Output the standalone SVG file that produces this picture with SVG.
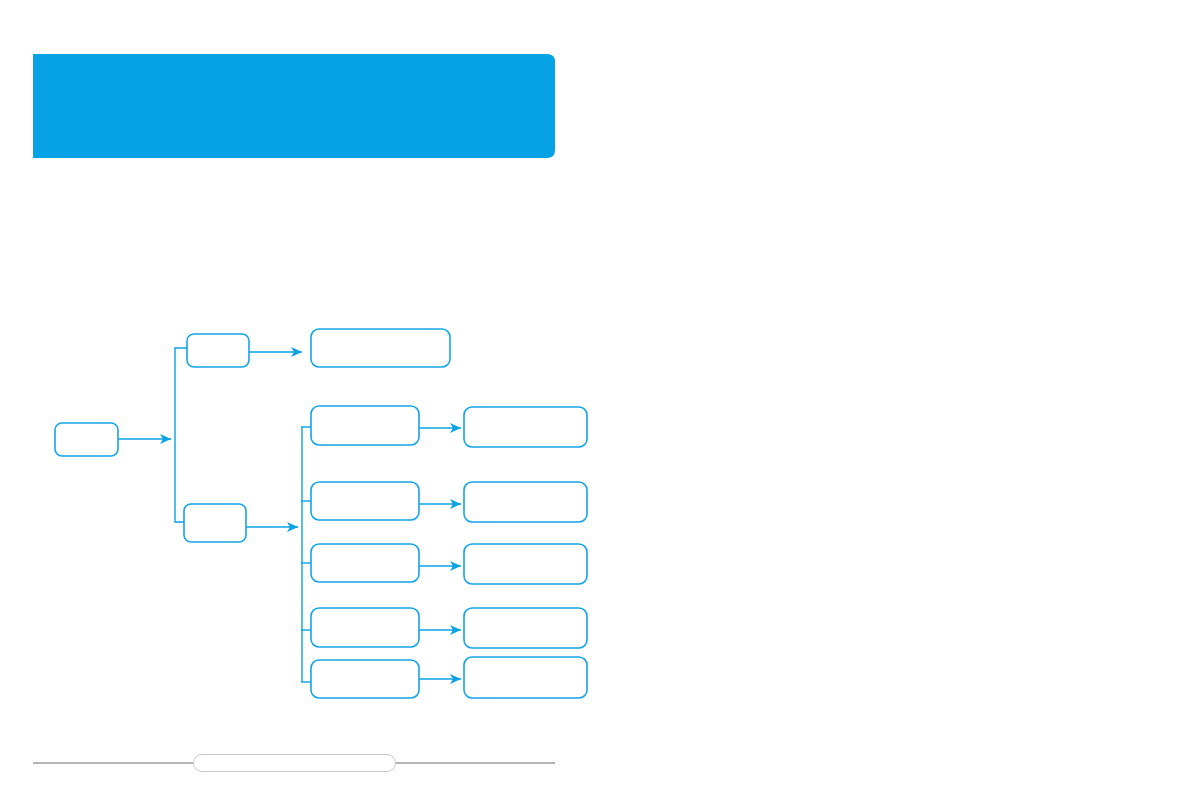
<svg xmlns="http://www.w3.org/2000/svg" width="1183" height="798" viewBox="0 0 1183 798">
<style>
.node{fill:#ffffff;stroke:#14A5E6;stroke-width:1.6}
.conn{fill:none;stroke:#0AA2E5;stroke-width:1.4}
</style>
<defs>
<marker id="arr" markerWidth="12" markerHeight="10" refX="11" refY="5" orient="auto" markerUnits="userSpaceOnUse">
<path d="M0,0 L11,5 L0,10 L3,5 Z" fill="#0AA2E5"/>
</marker>
</defs>
<rect width="1183" height="798" fill="#ffffff"/>
<g id="header">
<path d="M33,54 H547 Q555,54 555,62 V150 Q555,158 547,158 H33 Z" fill="#05A3E6"/>
</g>
<g id="footer">
<line x1="33" y1="763" x2="193" y2="763" stroke="#6a6a6a" stroke-width="1"/>
<line x1="395" y1="763" x2="555" y2="763" stroke="#6a6a6a" stroke-width="1"/>
<rect x="193.5" y="754.5" width="202" height="17" rx="8.5" fill="#ffffff" stroke="#c8c8c8" stroke-width="1"/>
</g>
<g id="root"><rect class="node" x="55" y="423" width="63" height="33" rx="7"/></g>
<g id="a"><rect class="node" x="187" y="334" width="62" height="33" rx="7"/></g>
<g id="a1"><rect class="node" x="311" y="329" width="139" height="38" rx="8"/></g>
<g id="b"><rect class="node" x="184" y="504" width="62" height="38" rx="7"/></g>
<g id="b1"><rect class="node" x="311" y="406" width="108" height="39" rx="8"/></g>
<g id="b2"><rect class="node" x="311" y="482" width="108" height="38" rx="8"/></g>
<g id="b3"><rect class="node" x="311" y="544" width="108" height="38" rx="8"/></g>
<g id="b4"><rect class="node" x="311" y="608" width="108" height="39" rx="8"/></g>
<g id="b5"><rect class="node" x="311" y="660" width="108" height="38" rx="8"/></g>
<g id="c1"><rect class="node" x="464" y="407" width="123" height="40" rx="8"/></g>
<g id="c2"><rect class="node" x="464" y="482" width="123" height="40" rx="8"/></g>
<g id="c3"><rect class="node" x="464" y="544" width="123" height="40" rx="8"/></g>
<g id="c4"><rect class="node" x="464" y="608" width="123" height="40" rx="8"/></g>
<g id="c5"><rect class="node" x="464" y="657" width="123" height="41" rx="8"/></g>
<g id="connectors">
<line class="conn" x1="118" y1="439" x2="171" y2="439" marker-end="url(#arr)"/>
<polyline class="conn" points="187,348 175,348 175,522 184,522"/>
<line class="conn" x1="249" y1="352" x2="302" y2="352" marker-end="url(#arr)"/>
<line class="conn" x1="246" y1="527" x2="298" y2="527" marker-end="url(#arr)"/>
<line class="conn" x1="302" y1="427" x2="302" y2="682"/>
<line class="conn" x1="301" y1="427" x2="311" y2="427"/>
<line class="conn" x1="301" y1="501" x2="311" y2="501"/>
<line class="conn" x1="301" y1="563" x2="311" y2="563"/>
<line class="conn" x1="301" y1="630" x2="311" y2="630"/>
<line class="conn" x1="301" y1="682" x2="311" y2="682"/>
<line class="conn" x1="419" y1="428" x2="461" y2="428" marker-end="url(#arr)"/>
<line class="conn" x1="419" y1="504" x2="461" y2="504" marker-end="url(#arr)"/>
<line class="conn" x1="419" y1="566" x2="461" y2="566" marker-end="url(#arr)"/>
<line class="conn" x1="419" y1="630" x2="461" y2="630" marker-end="url(#arr)"/>
<line class="conn" x1="419" y1="679" x2="461" y2="679" marker-end="url(#arr)"/>
</g>
</svg>
